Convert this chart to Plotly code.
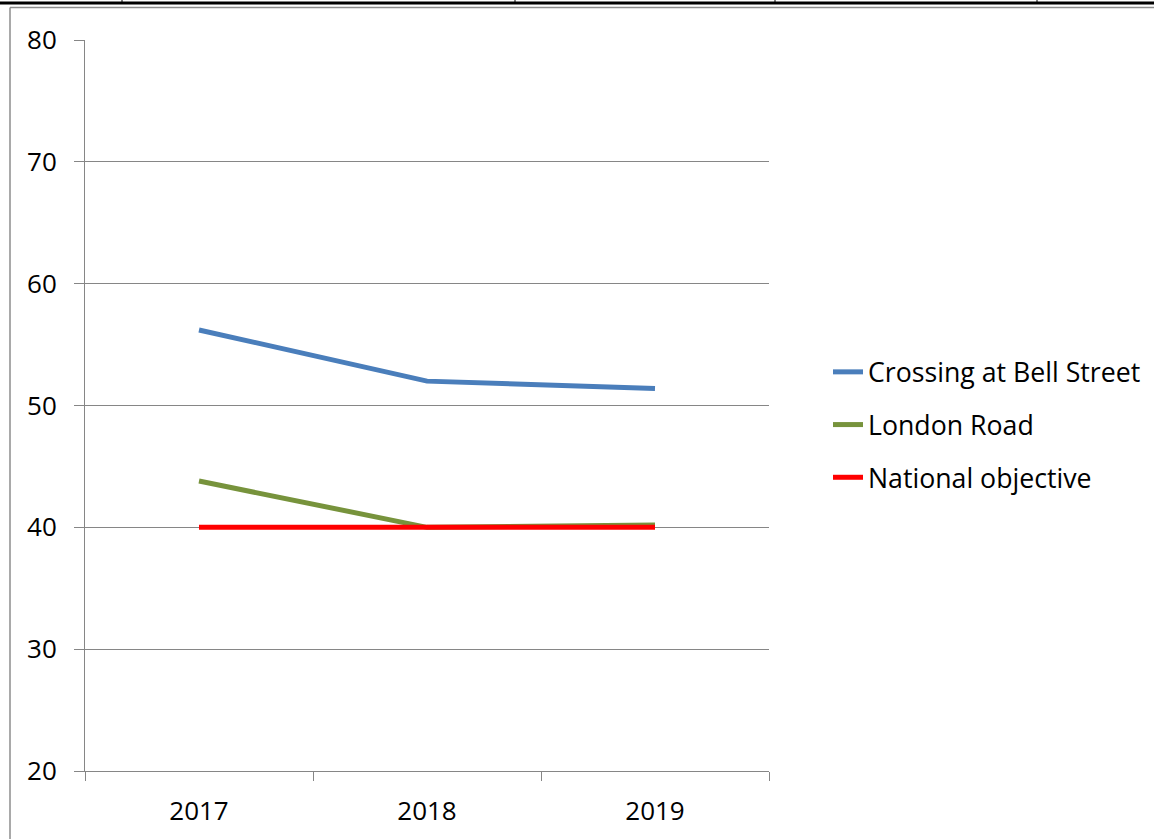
import plotly.graph_objects as go

years = ["2017", "2018", "2019"]
bell_street = [56.2, 52.0, 51.4]
london_road = [43.8, 40.0, 40.2]
national_objective = [40, 40, 40]
series_names = ["Crossing at Bell Street", "London Road", "National objective"]
series_colors = ["#4A7EBB", "#77933C", "#FF0000"]
y_ticks = [20, 30, 40, 50, 60, 70, 80]

W, H = 1154, 839
FONT = "Open Sans"
GRID = "#868686"

fig = go.Figure()
for name, vals, col in zip(series_names, [bell_street, london_road, national_objective], series_colors):
    fig.add_trace(go.Scatter(
        x=years, y=vals, mode="lines", name=name, legendgroup=name,
        line=dict(color=col, width=5),
    ))

def px_x(p):
    return p / W

def px_y(p):
    return 1 - p / H

shapes = [
    dict(type="line", xref="paper", yref="paper", x0=0, x1=1, y0=px_y(3), y1=px_y(3),
         line=dict(color="black", width=3)),
    dict(type="line", xref="paper", yref="paper", x0=px_x(10), x1=1, y0=px_y(7.5), y1=px_y(7.5),
         line=dict(color="#8c8c8c", width=1.5)),
    dict(type="line", xref="paper", yref="paper", x0=px_x(10), x1=px_x(10), y0=px_y(7.5), y1=0,
         line=dict(color="#8c8c8c", width=1.5)),
]
for xv in [122, 515, 775, 1037]:
    shapes.append(dict(type="line", xref="paper", yref="paper", x0=px_x(xv), x1=px_x(xv),
                       y0=1, y1=px_y(3), line=dict(color="black", width=1)))

fig.update_layout(
    template="none",
    width=W, height=H,
    margin=dict(l=0, r=0, t=0, b=0, pad=0, autoexpand=False),
    paper_bgcolor="white", plot_bgcolor="white",
    font=dict(family=FONT, size=26, color="black"),
    shapes=shapes,
    showlegend=True,
    legend=dict(x=px_x(828), y=px_y(425), xanchor="left", yanchor="middle",
                font=dict(family=FONT, size=26.7, color="black"),
                tracegroupgap=15, bgcolor="rgba(0,0,0,0)", borderwidth=0),
    xaxis=dict(domain=[px_x(85), px_x(769)], type="category", range=[-0.5, 2.5],
               tickson="boundaries", ticks="outside", ticklen=9, tickcolor=GRID, tickwidth=1,
               showline=True, linecolor=GRID, linewidth=1, showgrid=False, automargin=False,
               ticklabelstandoff=17,
               tickfont=dict(family=FONT, size=26, color="black"), zeroline=False),
    yaxis=dict(domain=[px_y(771), px_y(40)], range=[20, 80], tickvals=y_ticks,
               ticks="outside", ticklen=10, tickcolor=GRID, tickwidth=1,
               showline=True, linecolor=GRID, linewidth=1, automargin=False,
               ticklabelstandoff=12,
               showgrid=True, gridcolor=GRID, gridwidth=1, zeroline=False,
               tickfont=dict(family=FONT, size=26, color="black")),
)

fig.write_html("out.html", config={"displayModeBar": False},
               post_script="document.body.style.margin='0';document.body.style.overflow='hidden';")
